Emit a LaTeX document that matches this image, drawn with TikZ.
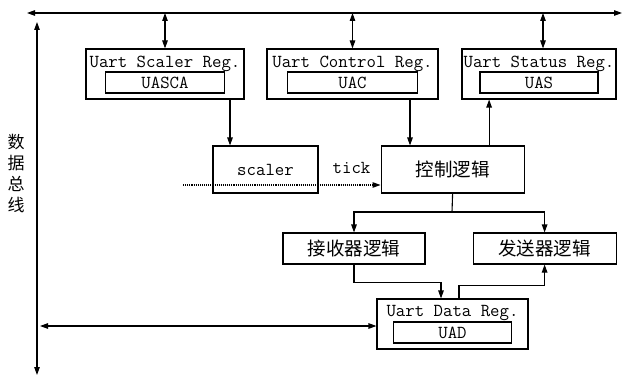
\documentclass[tikz,border=0pt]{standalone}
\usepackage{fontspec}
\newfontfamily\cjk{Noto Sans CJK SC}
\usetikzlibrary{arrows.meta,positioning}

\begin{document}
\begin{tikzpicture}[
  x=1pt, y=-1pt,
  regbox/.style={
    rectangle, draw=black, line width=1.1pt,
    minimum width=#1, minimum height=50pt, inner sep=0pt
  },
  inbox/.style={
    rectangle, draw=black, line width=1.1pt,
    minimum width=#1, minimum height=21pt, inner sep=0pt,
    font=\ttfamily\fontsize{18.3}{20}\selectfont
  },
  logic/.style={
    rectangle, draw=black, line width=1.1pt,
    minimum width=#1, inner sep=0pt
  },
  mono/.style={font=\ttfamily\fontsize{18.3}{20}\selectfont, inner sep=0pt},
  zh/.style={font=\cjk\fontsize{18.5}{22}\selectfont},
  arr/.style={-{Triangle[length=8pt,width=5.5pt]}, line width=1.1pt},
  biarr/.style={{Triangle[length=8pt,width=5.5pt]}-{Triangle[length=8pt,width=5.5pt]}, line width=1.1pt},
  dotarr/.style={-{Triangle[length=8pt,width=5.5pt]}, line width=1.1pt, densely dotted},
]
\useasboundingbox[fill=white] (0,0) rectangle (623,377);

%% ── Buses ────────────────────────────────────────────────────────
\coordinate (busL) at (27,13);
\coordinate (busR) at (622,13);
\coordinate (busT) at (37,22);
\coordinate (busB) at (37,375);
\draw[biarr] (busL) -- (busR);
\draw[biarr] (busT) -- (busB);
\node[font=\cjk\fontsize{17}{21}\selectfont, align=center, inner sep=0pt]
      (buslbl) at (16,173.5) {数\\据\\总\\线};

%% ── Registers ────────────────────────────────────────────────────
\node[regbox=158pt]                        (sclreg) at (165,74) {};
\node[mono, below=7pt of sclreg.north]     (sclname) {Uart Scaler Reg.};
\node[inbox=119pt, above=6pt of sclreg.south] (uasca) {UASCA};

\node[regbox=171pt]                        (ctlreg) at (352.5,74) {};
\node[mono, below=7pt of ctlreg.north]     (ctlname) {Uart Control Reg.};
\node[inbox=130pt, above=6pt of ctlreg.south] (uac) {UAC};

\node[regbox=154pt]                        (stsreg) at (539,74) {};
\node[mono, below=7pt of stsreg.north]     (stsname) {Uart Status Reg.};
\node[inbox=118pt, above=6pt of stsreg.south] (uas) {UAS};

\node[regbox=151pt]                        (datreg) at (452.5,324) {};
\node[mono, below=7pt of datreg.north]     (datname) {Uart Data Reg.};
\node[inbox=118pt, above=6pt of datreg.south] (uad) {UAD};

%% ── Logic blocks ─────────────────────────────────────────────────
\node[logic=105pt, minimum height=47pt, mono] (scaler) at (265.5,169.5) {scaler};
\node[logic=143pt, minimum height=47pt, zh, right=62pt of scaler] (ctrl) {控制逻辑};
\node[logic=142pt, minimum height=31pt, zh] (rx) at (354,248.5) {接收器逻辑};
\node[logic=143pt, minimum height=31pt, zh, right=47pt of rx] (tx) {发送器逻辑};

\node[mono] (ticklbl) at (351.5,168) {tick};

%% ── Bus links ────────────────────────────────────────────────────
\draw[biarr] (sclreg.north) -- (sclreg.north |- busL);
\draw[biarr] (ctlreg.north) -- (ctlreg.north |- busL);
\draw[biarr] ([xshift=4pt]stsreg.north) -- ([xshift=4pt]stsreg.north |- busL);
\coordinate (busD) at (37,326);
\draw[biarr] ([xshift=3pt]busD) -- (busD -| datreg.west);

%% ── Register to logic ────────────────────────────────────────────
\draw[arr] ([xshift=65pt]sclreg.south) -- ([xshift=65pt]sclreg.south |- scaler.north);
\draw[arr] ([xshift=57.5pt]ctlreg.south) -- ([xshift=57.5pt]ctlreg.south |- ctrl.north);
\draw[arr] ([xshift=36.5pt]ctrl.north) -- ([xshift=36.5pt]ctrl.north |- stsreg.south);

\coordinate (tickin) at (183,185);
\draw[dotarr] (tickin) -- (tickin -| ctrl.west);

%% ── Control to rx / tx ───────────────────────────────────────────
\coordinate (fork) at (452,212);
\draw[line width=1.1pt] (ctrl.south) -- (fork);
\draw[arr] (fork) -| (rx.north);
\draw[arr] (fork) -| (tx.north);

%% ── rx / tx to data register ─────────────────────────────────────
\draw[arr] (rx.south) -- ++(0,18) -| ([xshift=-11.5pt]datreg.north);
\draw[arr] ([xshift=6.5pt]datreg.north) -- ++(0,-13) -| (tx.south);

\end{tikzpicture}
\end{document}
